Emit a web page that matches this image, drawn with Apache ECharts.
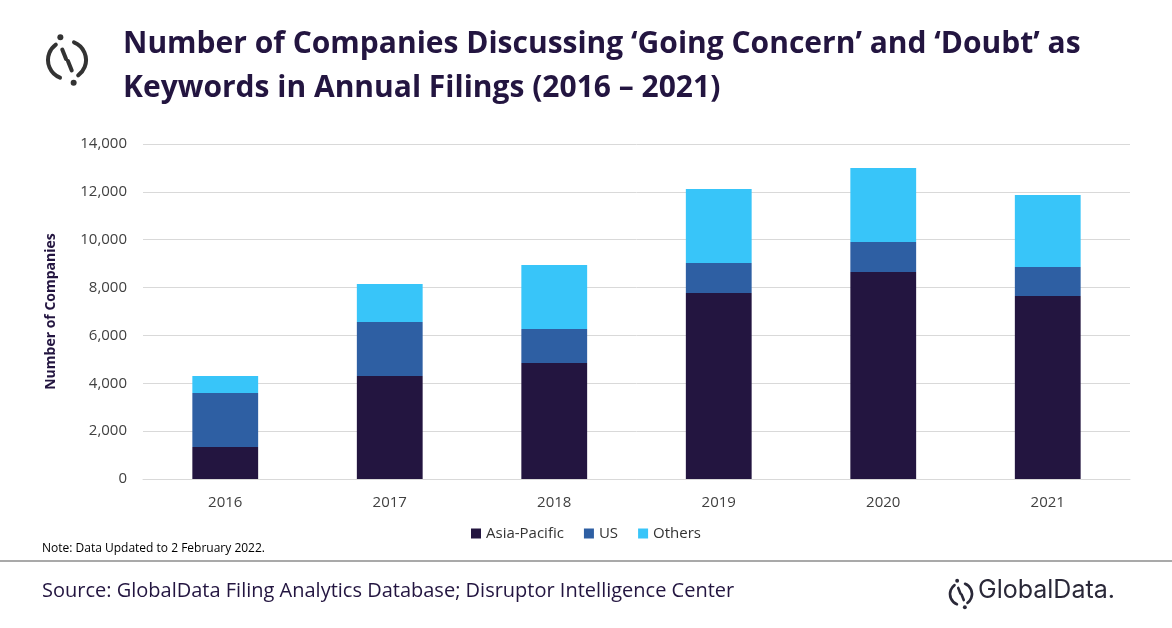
<!DOCTYPE html>
<html lang="en">
<head>
  <meta charset="UTF-8">
  <title>Going Concern</title>
  <script src="https://cdn.jsdelivr.net/npm/echarts@6/dist/echarts.min.js"></script>
  <style>body{margin:0;background:#fff}</style>
</head>
<body>
  <div id="main" style="width:1172px;height:628px;"></div>
  <script type="text/javascript">
  var years = ['2016', '2017', '2018', '2019', '2020', '2021'];
  var asiaPacific = [1340, 4300, 4850, 7770, 8650, 7650];
  var us = [2250, 2260, 1420, 1260, 1250, 1210];
  var others = [710, 1590, 2670, 3090, 3100, 3010];

  var font = '"Open Sans", Calibri, sans-serif';
  var dark = '#231540';
  var myChart = echarts.init(document.getElementById('main'));

  function logo(cx, cy, r, lw, col) {
    return [
      { type: 'arc', shape: { cx: cx, cy: cy, r: r, startAngle: Math.PI * 0.62, endAngle: Math.PI * 1.3 }, style: { stroke: col, lineWidth: lw, fill: null, lineCap: 'round' } },
      { type: 'arc', shape: { cx: cx, cy: cy, r: r, startAngle: Math.PI * 1.62, endAngle: Math.PI * 2.3 }, style: { stroke: col, lineWidth: lw, fill: null, lineCap: 'round' } },
      { type: 'line', shape: { x1: cx - r * 0.25, y1: cy - r * 0.55, x2: cx - r * 0.05, y2: cy - r * 0.05 }, style: { stroke: col, lineWidth: lw, lineCap: 'round' } },
      { type: 'line', shape: { x1: cx + r * 0.05, y1: cy + r * 0.05, x2: cx + r * 0.25, y2: cy + r * 0.55 }, style: { stroke: col, lineWidth: lw, lineCap: 'round' } },
      { type: 'circle', shape: { cx: cx - r * 0.35, cy: cy - r * 1.2, r: lw * 0.75 }, style: { fill: col } },
      { type: 'circle', shape: { cx: cx + r * 0.35, cy: cy + r * 1.2, r: lw * 0.75 }, style: { fill: col } }
    ];
  }

  var option = {
    animation: false,
    textStyle: { fontFamily: font },
    color: [dark, '#2e5fa3', '#38c5f9'],
    grid: { left: 143, right: 42, top: 144, bottom: 149 },
    legend: {
      bottom: 82, left: 'center', itemWidth: 10, itemHeight: 10, itemGap: 20,
      icon: 'rect',
      textStyle: { fontSize: 15, color: '#333', fontFamily: font }
    },
    xAxis: {
      type: 'category', data: years,
      axisLine: { lineStyle: { color: '#d9d9d9' } },
      axisTick: { show: false },
      axisLabel: { fontSize: 15, color: '#404040', margin: 16 }
    },
    yAxis: {
      type: 'value', min: 0, max: 14000, interval: 2000,
      name: 'Number of Companies', nameLocation: 'middle', nameGap: 85,
      nameTextStyle: { fontSize: 14, fontWeight: 'bold', color: dark },
      axisLabel: { fontSize: 15, color: '#404040', margin: 16,
        formatter: function (v) { return v.toLocaleString('en-US'); } },
      splitLine: { lineStyle: { color: '#d9d9d9' } }
    },
    series: [
      { name: 'Asia-Pacific', type: 'bar', stack: 't', barWidth: '40%', data: asiaPacific },
      { name: 'US', type: 'bar', stack: 't', data: us },
      { name: 'Others', type: 'bar', stack: 't', data: others }
    ],
    graphic: [
      { type: 'text', left: 123, top: 22, style: { text: 'Number of Companies Discussing \u2018Going Concern\u2019 and \u2018Doubt\u2019 as\nKeywords in Annual Filings (2016 \u2013 2021)', fontSize: 30, fontWeight: 'bold', fill: dark, fontFamily: font, lineHeight: 44 } },
      { type: 'text', left: 42, top: 543, style: { text: 'Note: Data Updated to 2 February 2022.', fontSize: 12, fill: '#000', fontFamily: font } },
      { type: 'line', shape: { x1: 0, y1: 561, x2: 1172, y2: 561 }, style: { stroke: '#8c8c8c', lineWidth: 1.5 } },
      { type: 'text', left: 42, top: 581, style: { text: 'Source: GlobalData Filing Analytics Database; Disruptor Intelligence Center', fontSize: 20, fill: dark, fontFamily: font } },
      { type: 'text', left: 978, top: 578, style: { text: 'GlobalData.', fontSize: 25, fill: '#2a2838', fontFamily: 'Inter, "Open Sans", sans-serif' } }
    ].concat(logo(67, 60, 19, 4, '#333')).concat(logo(961, 594, 11, 2.6, '#2a2838'))
  };
  myChart.setOption(option);
  </script>
</body>
</html>
